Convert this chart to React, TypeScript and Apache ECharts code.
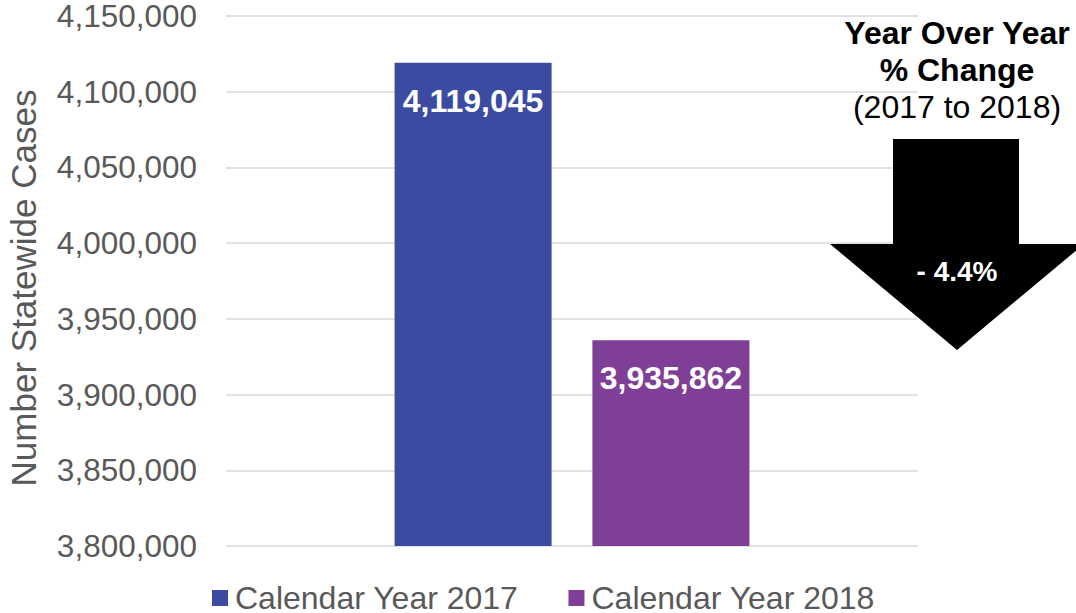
import React, { useEffect, useRef } from "react";
import * as echarts from "echarts";

const categories = ["Statewide"];
const seriesNames = ["Calendar Year 2017", "Calendar Year 2018"];
const seriesValues = [4119045, 3935862];
const seriesColors = ["#3A4BA1", "#803F96"];
const yMin = 3800000;
const yMax = 4150000;
const yInterval = 50000;
const changeTitle = ["Year Over Year", "% Change"];
const changeSub = "(2017 to 2018)";
const changeValue = "- 4.4%";

const fmt = (v: number) => String(v).replace(/\B(?=(\d{3})+(?!\d))/g, ",");
const FONT = "'Liberation Sans', Arial, sans-serif";

export default function App() {
  const ref = useRef<HTMLDivElement>(null);
  useEffect(() => {
    if (!ref.current) return;
    const chart = echarts.init(ref.current, undefined, { renderer: "svg" });
    chart.setOption({
      animation: false,
      textStyle: { fontFamily: FONT },
      grid: { left: 226, right: 158, top: 16, bottom: 67, outerBoundsMode: "none", containLabel: false },
      legend: {
        left: 207,
        top: 577,
        itemWidth: 16,
        itemHeight: 16,
        itemGap: 50,
        icon: "rect",
        textStyle: {
          fontSize: 32,
          lineHeight: 28,
          color: "#595959",
          fontFamily: FONT,
          padding: [0, 0, 0, 2],
        },
        data: seriesNames,
      },
      xAxis: {
        type: "category",
        data: categories,
        axisLine: { show: false },
        axisTick: { show: false },
        axisLabel: { show: false },
      },
      yAxis: {
        type: "value",
        min: yMin,
        max: yMax,
        interval: yInterval,
        name: "Number Statewide Cases",
        nameLocation: "middle",
        nameGap: 185,
        nameTextStyle: {
          fontSize: 35,
          color: "#595959",
          fontFamily: FONT,
          padding: [0, 14, 0, 0],
        },
        axisLine: { show: false },
        axisTick: { show: false },
        axisLabel: {
          margin: 29,
          fontSize: 31.5,
          lineHeight: 28,
          color: "#595959",
          fontFamily: FONT,
          formatter: (v: number) => fmt(v),
        },
        splitLine: { lineStyle: { color: "#D9D9D9", width: 1.5 } },
      },
      series: seriesNames.map((name, i) => ({
        name,
        type: "bar",
        data: [seriesValues[i]],
        barWidth: 157,
        barGap: "26%",
        itemStyle: { color: seriesColors[i] },
        label: {
          show: true,
          position: "insideTop",
          distance: 22,
          color: "#FFFFFF",
          fontWeight: "bold",
          fontSize: 32,
          fontFamily: FONT,
          formatter: (p: any) => fmt(p.value),
        },
      })),
      graphic: [
        {
          type: "polygon",
          z: 100,
          shape: {
            points: [
              [893, 139],
              [1019, 139],
              [1019, 244],
              [1084, 244],
              [957, 350],
              [830, 244],
              [893, 244],
            ],
          },
          style: { fill: "#000000" },
        },
        {
          type: "text",
          z: 101,
          x: 957,
          y: 271,
          style: {
            text: changeValue,
            fill: "#FFFFFF",
            font: `bold 28px ${FONT}`,
            align: "center",
            verticalAlign: "middle",
          },
        },
        ...changeTitle.map((t, i) => ({
          type: "text",
          z: 101,
          x: 957,
          y: 33 + i * 37,
          style: {
            text: t,
            fill: "#000000",
            font: `bold 32px ${FONT}`,
            align: "center",
            verticalAlign: "middle",
          },
        })),
        {
          type: "text",
          z: 101,
          x: 957,
          y: 107,
          style: {
            text: changeSub,
            fill: "#000000",
            font: `32px ${FONT}`,
            align: "center",
            verticalAlign: "middle",
          },
        },
      ],
    });
    return () => chart.dispose();
  }, []);
  return (
    <div
      ref={ref}
      style={{ position: "fixed", left: 0, top: 0, width: 1076, height: 613, background: "#FFFFFF" }}
    />
  );
}
